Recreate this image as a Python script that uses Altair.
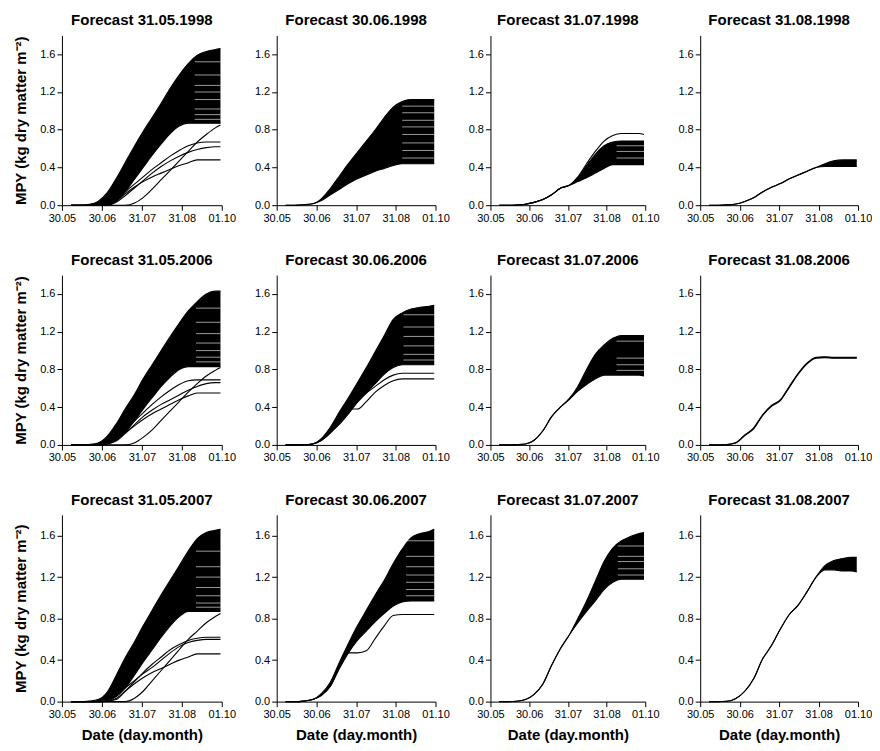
import altair as alt
import pandas as pd

FONT = "Liberation Sans"

# x positions: days after 30 May
DAYS = [7, 14, 21, 28, 35, 42, 49, 56, 63, 70, 77, 84, 91, 98, 105, 112, 119, 123]
END_DAY = 123
TICK_DAYS = [0, 31, 62, 93, 124]
TICK_LABELS = ["30.05", "30.06", "31.07", "31.08", "01.10"]
Y_TICKS = [0.0, 0.4, 0.8, 1.2, 1.6]

TITLES = [
    "Forecast 31.05.1998", "Forecast 30.06.1998", "Forecast 31.07.1998", "Forecast 31.08.1998",
    "Forecast 31.05.2006", "Forecast 30.06.2006", "Forecast 31.07.2006", "Forecast 31.08.2006",
    "Forecast 31.05.2007", "Forecast 30.06.2007", "Forecast 31.07.2007", "Forecast 31.08.2007",
]

# ---- 1998 ----
P1_UPPER = [0, 0, 0.01, 0.04, 0.13, 0.28, 0.45, 0.62, 0.78, 0.93, 1.08, 1.24, 1.38, 1.50, 1.59, 1.63, 1.65, 1.66]
P1_LOWER = [0, 0, 0, 0, 0.005, 0.04, 0.14, 0.27, 0.40, 0.53, 0.65, 0.76, 0.84, 0.87, 0.87, 0.87, 0.87, 0.87]
P1_EXTRA = [
    [0, 0, 0, 0, 0, 0.04, 0.12, 0.19, 0.25, 0.30, 0.34, 0.38, 0.42, 0.45, 0.48, 0.48, 0.48, 0.48],
    [0, 0, 0, 0, 0, 0.03, 0.10, 0.18, 0.26, 0.34, 0.41, 0.47, 0.52, 0.56, 0.59, 0.61, 0.62, 0.62],
    [0, 0, 0, 0, 0.005, 0.05, 0.14, 0.22, 0.30, 0.38, 0.45, 0.52, 0.58, 0.63, 0.66, 0.67, 0.67, 0.67],
    [0, 0, 0, 0, 0, 0, 0, 0.02, 0.08, 0.17, 0.27, 0.37, 0.47, 0.57, 0.67, 0.75, 0.82, 0.85],
]
P1_GAPS = [1.52, 1.38, 1.27, 1.20, 1.12, 1.02, 0.96, 0.91]
P1_GAP_START = 103
P2_UPPER = [0, 0, 0.005, 0.015, 0.07, 0.18, 0.31, 0.44, 0.56, 0.68, 0.80, 0.93, 1.04, 1.10, 1.12, 1.12, 1.12, 1.12]
P2_LOWER = [0, 0, 0.005, 0.015, 0.05, 0.11, 0.17, 0.23, 0.28, 0.32, 0.36, 0.39, 0.42, 0.44, 0.44, 0.44, 0.44, 0.44]
P2_EXTRA = []
P2_GAPS = [1.05, 0.98, 0.90, 0.83, 0.75, 0.66, 0.58, 0.50]
P2_GAP_START = 98
P3_UPPER = [0, 0, 0.002, 0.01, 0.03, 0.06, 0.11, 0.18, 0.21, 0.29, 0.42, 0.54, 0.63, 0.67, 0.68, 0.68, 0.68, 0.68]
P3_LOWER = [0, 0, 0.002, 0.01, 0.03, 0.06, 0.11, 0.18, 0.21, 0.25, 0.29, 0.34, 0.39, 0.43, 0.43, 0.43, 0.43, 0.43]
P3_EXTRA = [
    [0, 0, 0.002, 0.01, 0.03, 0.06, 0.11, 0.18, 0.21, 0.30, 0.44, 0.57, 0.68, 0.74, 0.76, 0.76, 0.76, 0.75],
]
P3_GAPS = [0.63, 0.57, 0.50]
P3_GAP_START = 101
P4_UPPER = [0, 0, 0.003, 0.012, 0.04, 0.08, 0.14, 0.19, 0.23, 0.28, 0.32, 0.36, 0.40, 0.44, 0.47, 0.48, 0.48, 0.48]
P4_LOWER = [0, 0, 0.003, 0.012, 0.04, 0.08, 0.14, 0.19, 0.23, 0.28, 0.32, 0.36, 0.40, 0.41, 0.41, 0.41, 0.41, 0.41]
P4_EXTRA = []
P4_GAPS = []
P4_GAP_START = 110

# ---- 2006 ----
P5_UPPER = [0, 0, 0.005, 0.02, 0.09, 0.22, 0.38, 0.53, 0.70, 0.85, 1.00, 1.15, 1.29, 1.42, 1.52, 1.60, 1.63, 1.63]
P5_LOWER = [0, 0, 0, 0.005, 0.02, 0.05, 0.13, 0.25, 0.38, 0.50, 0.62, 0.72, 0.80, 0.83, 0.83, 0.83, 0.83, 0.83]
P5_EXTRA = [
    [0, 0, 0, 0, 0.01, 0.05, 0.13, 0.20, 0.27, 0.33, 0.38, 0.43, 0.48, 0.52, 0.55, 0.55, 0.55, 0.55],
    [0, 0, 0, 0, 0.01, 0.04, 0.12, 0.21, 0.30, 0.37, 0.43, 0.48, 0.53, 0.58, 0.62, 0.65, 0.66, 0.66],
    [0, 0, 0, 0, 0.01, 0.06, 0.15, 0.25, 0.34, 0.43, 0.51, 0.58, 0.64, 0.68, 0.69, 0.69, 0.69, 0.69],
    [0, 0, 0, 0, 0, 0, 0, 0.02, 0.08, 0.16, 0.26, 0.36, 0.46, 0.56, 0.65, 0.73, 0.79, 0.82],
]
P5_GAPS = [1.45, 1.30, 1.18, 1.08, 1.00, 0.93, 0.88]
P5_GAP_START = 104
P6_UPPER = [0, 0, 0.002, 0.01, 0.07, 0.19, 0.35, 0.50, 0.66, 0.82, 0.99, 1.16, 1.33, 1.40, 1.44, 1.46, 1.47, 1.48]
P6_LOWER = [0, 0, 0.002, 0.01, 0.05, 0.13, 0.22, 0.33, 0.45, 0.55, 0.65, 0.75, 0.82, 0.85, 0.85, 0.85, 0.85, 0.85]
P6_EXTRA = [
    [0, 0, 0.002, 0.01, 0.05, 0.13, 0.25, 0.38, 0.38, 0.46, 0.56, 0.63, 0.68, 0.70, 0.70, 0.70, 0.70, 0.70],
    [0, 0, 0.002, 0.01, 0.05, 0.13, 0.25, 0.37, 0.47, 0.55, 0.62, 0.69, 0.74, 0.76, 0.76, 0.76, 0.76, 0.76],
]
P6_GAPS = [1.38, 1.25, 1.15, 1.05, 0.96, 0.90]
P6_GAP_START = 99
P7_UPPER = [0, 0, 0.003, 0.01, 0.05, 0.15, 0.30, 0.40, 0.49, 0.62, 0.80, 0.96, 1.06, 1.13, 1.16, 1.16, 1.16, 1.16]
P7_LOWER = [0, 0, 0.003, 0.01, 0.05, 0.15, 0.30, 0.40, 0.48, 0.57, 0.64, 0.70, 0.74, 0.74, 0.74, 0.74, 0.74, 0.73]
P7_EXTRA = []
P7_GAPS = [1.10, 0.92, 0.85, 0.79]
P7_GAP_START = 101
P8_UPPER = [0, 0, 0.004, 0.025, 0.105, 0.18, 0.32, 0.42, 0.48, 0.62, 0.76, 0.87, 0.93, 0.935, 0.93, 0.93, 0.93, 0.93]
P8_LOWER = [0, 0, 0.003, 0.02, 0.10, 0.17, 0.31, 0.41, 0.47, 0.61, 0.75, 0.86, 0.92, 0.925, 0.92, 0.92, 0.92, 0.92]
P8_EXTRA = []
P8_GAPS = []
P8_GAP_START = 110

# ---- 2007 ----
P9_UPPER = [0, 0, 0.005, 0.02, 0.09, 0.25, 0.42, 0.57, 0.73, 0.88, 1.03, 1.17, 1.31, 1.45, 1.57, 1.63, 1.65, 1.66]
P9_LOWER = [0, 0, 0, 0.005, 0.02, 0.05, 0.13, 0.25, 0.38, 0.50, 0.62, 0.73, 0.82, 0.87, 0.87, 0.87, 0.87, 0.87]
P9_EXTRA = [
    [0, 0, 0, 0, 0.005, 0.03, 0.10, 0.17, 0.23, 0.28, 0.32, 0.36, 0.40, 0.43, 0.46, 0.46, 0.46, 0.46],
    [0, 0, 0, 0, 0.01, 0.05, 0.13, 0.20, 0.27, 0.33, 0.40, 0.47, 0.53, 0.57, 0.59, 0.60, 0.60, 0.60],
    [0, 0, 0, 0, 0.005, 0.02, 0.10, 0.19, 0.28, 0.36, 0.43, 0.50, 0.55, 0.59, 0.61, 0.62, 0.62, 0.62],
    [0, 0, 0, 0, 0, 0, 0, 0.03, 0.10, 0.20, 0.30, 0.40, 0.50, 0.60, 0.68, 0.76, 0.82, 0.85],
]
P9_GAPS = [1.45, 1.30, 1.20, 1.10, 1.02, 0.95, 0.91]
P9_GAP_START = 104
P10_UPPER = [0, 0, 0.005, 0.02, 0.08, 0.19, 0.38, 0.56, 0.73, 0.88, 1.03, 1.17, 1.33, 1.47, 1.58, 1.62, 1.64, 1.66]
P10_LOWER = [0, 0, 0.005, 0.02, 0.06, 0.15, 0.32, 0.47, 0.59, 0.68, 0.77, 0.85, 0.92, 0.96, 0.97, 0.97, 0.97, 0.97]
P10_EXTRA = [
    [0, 0, 0.005, 0.02, 0.06, 0.15, 0.34, 0.47, 0.47, 0.49, 0.61, 0.73, 0.83, 0.84, 0.84, 0.84, 0.84, 0.84],
]
P10_GAPS = [1.55, 1.40, 1.30, 1.22, 1.15, 1.08, 1.02]
P10_GAP_START = 101
P11_UPPER = [0, 0, 0.004, 0.02, 0.07, 0.17, 0.35, 0.51, 0.64, 0.80, 0.97, 1.16, 1.35, 1.48, 1.55, 1.59, 1.62, 1.63]
P11_LOWER = [0, 0, 0.004, 0.02, 0.07, 0.17, 0.35, 0.51, 0.64, 0.76, 0.87, 0.97, 1.08, 1.15, 1.18, 1.18, 1.18, 1.18]
P11_EXTRA = []
P11_GAPS = [1.50, 1.40, 1.35, 1.28, 1.22]
P11_GAP_START = 102
P12_UPPER = [0, 0, 0.003, 0.03, 0.10, 0.22, 0.41, 0.54, 0.70, 0.84, 0.93, 1.06, 1.20, 1.31, 1.36, 1.38, 1.39, 1.39]
P12_LOWER = [0, 0, 0.003, 0.03, 0.10, 0.22, 0.41, 0.54, 0.70, 0.84, 0.93, 1.06, 1.20, 1.27, 1.27, 1.26, 1.26, 1.25]
P12_EXTRA = []
P12_GAPS = []
P12_GAP_START = 110

PANELS = [
    (P1_UPPER, P1_LOWER, P1_EXTRA, P1_GAPS, P1_GAP_START),
    (P2_UPPER, P2_LOWER, P2_EXTRA, P2_GAPS, P2_GAP_START),
    (P3_UPPER, P3_LOWER, P3_EXTRA, P3_GAPS, P3_GAP_START),
    (P4_UPPER, P4_LOWER, P4_EXTRA, P4_GAPS, P4_GAP_START),
    (P5_UPPER, P5_LOWER, P5_EXTRA, P5_GAPS, P5_GAP_START),
    (P6_UPPER, P6_LOWER, P6_EXTRA, P6_GAPS, P6_GAP_START),
    (P7_UPPER, P7_LOWER, P7_EXTRA, P7_GAPS, P7_GAP_START),
    (P8_UPPER, P8_LOWER, P8_EXTRA, P8_GAPS, P8_GAP_START),
    (P9_UPPER, P9_LOWER, P9_EXTRA, P9_GAPS, P9_GAP_START),
    (P10_UPPER, P10_LOWER, P10_EXTRA, P10_GAPS, P10_GAP_START),
    (P11_UPPER, P11_LOWER, P11_EXTRA, P11_GAPS, P11_GAP_START),
    (P12_UPPER, P12_LOWER, P12_EXTRA, P12_GAPS, P12_GAP_START),
]

COL_WIDTHS = [160, 159, 155, 158]
ROW_HEIGHTS = [170, 170, 187]

LABEL_EXPR = " : ".join(
    f"datum.value == {d} ? '{l}'" for d, l in zip(TICK_DAYS, TICK_LABELS)
) + " : ''"

Y_TITLE = "MPY (kg dry matter m\u207b\u00b2)"
X_TITLE = "Date (day.month)"


def make_panel(i):
    upper, lower, extra, gaps, gap_start = PANELS[i]
    r, c = divmod(i, 4)
    band = pd.DataFrame({"day": DAYS, "lo": lower, "hi": upper})
    recs = []
    for k, curve in enumerate([upper, lower] + extra):
        for d, v in zip(DAYS, curve):
            recs.append({"day": d, "mpy": v, "run": k})
    lines = pd.DataFrame(recs)
    gap_df = pd.DataFrame({"g0": [gap_start] * len(gaps), "g1": [END_DAY] * len(gaps), "lvl": gaps})

    xkw = dict(values=TICK_DAYS, labelExpr=LABEL_EXPR, labelOverlap=False, labelFlush=False)
    xkw["title"] = X_TITLE if r == 2 else None
    ykw = dict(values=Y_TICKS, format=".1f", labelOverlap=False)
    ykw["title"] = Y_TITLE if c == 0 else None

    xscale = alt.Scale(domain=[0, 124], nice=False, zero=False)
    yscale = alt.Scale(domain=[0, 1.8], nice=False)
    x = alt.X("day:Q", scale=xscale, axis=alt.Axis(**xkw))
    area = alt.Chart(band).mark_area(color="black", interpolate="monotone").encode(
        x=x,
        y=alt.Y("lo:Q", scale=yscale, axis=alt.Axis(**ykw)),
        y2="hi:Q",
    )
    ln = alt.Chart(lines).mark_line(color="black", strokeWidth=1.1, interpolate="monotone").encode(
        x=x,
        y=alt.Y("mpy:Q", scale=yscale, axis=alt.Axis(**ykw)),
        detail="run:N",
    )
    layers = [area, ln]
    if len(gaps):
        gp = alt.Chart(gap_df).mark_rule(color="white", strokeWidth=0.6).encode(
            x=alt.X("g0:Q", scale=xscale, axis=alt.Axis(**xkw)),
            x2="g1:Q",
            y=alt.Y("lvl:Q", scale=yscale, axis=alt.Axis(**ykw)),
        )
        layers.append(gp)
    return alt.layer(*layers).properties(
        width=COL_WIDTHS[c],
        height=ROW_HEIGHTS[r],
        title=alt.TitleParams(TITLES[i], fontSize=15, fontWeight="bold", font=FONT,
                              color="black", offset=7, anchor="middle"),
    )


chart = alt.concat(
    *[make_panel(i) for i in range(12)],
    columns=4, spacing={"row": 70, "column": 55}, bounds="flush", align="each",
).properties(
    padding={"left": 5, "top": 5, "right": 0, "bottom": 2},
).configure_view(stroke=None).configure_axis(
    grid=False, domainColor="black", tickColor="black", labelColor="black",
    labelFont=FONT, labelFontSize=11, titleFont=FONT, titleFontSize=15,
    titleFontWeight="bold", titleColor="black", tickSize=5, labelPadding=2,
).configure_axisY(titlePadding=11).configure_axisX(titlePadding=8)

chart.save("out.html", embed_options={"renderer": "svg", "actions": False})
